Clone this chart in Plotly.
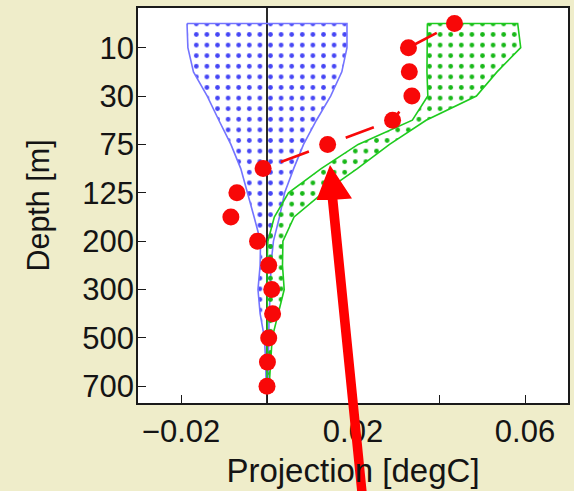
import plotly.graph_objects as go

# ---- data ----
depth_labels = ["5", "10", "20", "30", "50", "75", "100", "125", "150",
                "200", "250", "300", "400", "500", "600", "700"]
tick_depths = ["10", "30", "75", "125", "200", "300", "500", "700"]

obs = [0.0436, 0.0329, 0.0331, 0.0337, 0.0292, 0.0141, -0.0009, -0.0070,
       -0.0084, -0.0022, 0.0004, 0.0011, 0.0013, 0.0004, 0.0001, 0.0000]

blue_lo = [-0.0186, -0.0184, -0.0171, -0.0139, -0.0112, -0.0084, -0.0061, -0.0045,
           -0.0030, -0.0015, -0.0016, -0.0021, -0.0016, -0.0006, -0.0003, -0.0002]
blue_hi = [0.0186, 0.0186, 0.0174, 0.0148, 0.0115, 0.0085, 0.0062, 0.0041,
           0.0029, 0.0015, 0.0009, 0.0008, 0.0005, 0.0004, 0.0003, 0.0002]

green_lo = [0.0373, 0.0372, 0.0372, 0.0374, 0.0338, 0.0212, 0.0126, 0.0050,
            0.0017, 0.0002, 0.0000, 0.0000, 0.0001, 0.0000, 0.0000, 0.0000]
green_hi = [0.0583, 0.0590, 0.0535, 0.0487, 0.0370, 0.0285, 0.0210, 0.0130,
            0.0063, 0.0037, 0.0036, 0.0040, 0.0026, 0.0012, 0.0008, 0.0005]

dashed_levels = 7  # top levels joined by the dashed red line

x_tickvals = [-0.02, 0.0, 0.02, 0.04, 0.06]
x_ticktext = ["\u22120.02", "", "0.02", "", "0.06"]

# ---- style ----
W, H = 574, 491
ML, MR, MT, MB = 138, 6, 8, 88
BG = "#efedca"
RED = "#f80808"
BLUE_LINE = "#7474ff"
BLUE_DOT = "#4646f5"
GREEN_LINE = "#1ecb1e"
GREEN_DOT = "#18b818"
FONT = "Liberation Sans, Arial, sans-serif"

fig = go.Figure()


def band(lo, hi, line_color, dot_color):
    xs = list(lo) + list(hi[::-1]) + [lo[0]]
    ys = list(depth_labels) + list(depth_labels[::-1]) + [depth_labels[0]]
    return go.Scatter(
        x=xs, y=ys, mode="lines", fill="toself",
        fillcolor="rgba(0,0,0,0)",
        line=dict(color=line_color, width=1.6),
        fillpattern=dict(shape=".", fgcolor=dot_color, bgcolor="rgba(0,0,0,0)",
                         size=10.6, solidity=0.16, fillmode="replace"),
        hoverinfo="skip", showlegend=False)


fig.add_trace(band(blue_lo, blue_hi, BLUE_LINE, BLUE_DOT))
fig.add_trace(band(green_lo, green_hi, GREEN_LINE, GREEN_DOT))

for k in range(dashed_levels - 1):
    fig.add_trace(go.Scatter(
        x=obs[k:k + 2], y=depth_labels[k:k + 2], mode="lines",
        line=dict(color=RED, width=2.6, dash="0px,20px,30px,1000px"),
        hoverinfo="skip", showlegend=False))

fig.add_trace(go.Scatter(
    x=obs, y=depth_labels, mode="markers",
    marker=dict(size=17, color=RED, line=dict(width=0)),
    hoverinfo="skip", showlegend=False))

# ---- big red arrow annotation (overlay; pixel -> paper coords) ----
pw, ph = W - ML - MR, H - MT - MB


def P(px, py):
    return (px - ML) / pw, (H - MB - py) / ph


arrow_px = [(330, 165), (352, 198.5), (337.5, 199.5), (368, 505),
            (358.5, 505), (327.8, 200), (316.5, 200)]
pts = [P(a, b) for a, b in arrow_px]
path = "M " + " L ".join(f"{x:.5f},{y:.5f}" for x, y in pts) + " Z"
fig.add_shape(type="path", path=path, xref="paper", yref="paper",
              fillcolor="#ff0000", line=dict(width=0), layer="above")

axis_common = dict(
    showline=True, linecolor="#1a1a1a", linewidth=1.5, mirror=True,
    ticks="inside", ticklen=8, tickwidth=1.3, tickcolor="#1a1a1a",
    showgrid=False,
    tickfont=dict(family=FONT, size=31, color="#141414"),
)

fig.update_xaxes(
    range=[-0.03, 0.07], tickmode="array", tickvals=x_tickvals, ticktext=x_ticktext,
    zeroline=True, zerolinecolor="#2a2a2a", zerolinewidth=1.6,
    title=dict(text="Projection [degC]", font=dict(family=FONT, size=33, color="#141414"),
               standoff=11),
    **axis_common)

fig.update_yaxes(
    type="category", categoryorder="array", categoryarray=depth_labels,
    range=[15.69, -0.64], tickmode="array", tickvals=tick_depths, ticktext=tick_depths,
    zeroline=False, ticklabelstandoff=-4,
    title=dict(text="Depth [m]", font=dict(family=FONT, size=30.5, color="#141414"),
               standoff=24),
    **axis_common)

fig.update_layout(
    width=W, height=H,
    paper_bgcolor=BG, plot_bgcolor="white",
    margin=dict(l=ML, r=MR, t=MT, b=MB, autoexpand=False),
    showlegend=False,
    hovermode=False,
    modebar=dict(bgcolor="rgba(0,0,0,0)", color="rgba(0,0,0,0)",
                 activecolor="rgba(0,0,0,0)"),
)

# remove the default page margin so the figure sits at the window origin
page_js = ("document.body.style.margin='0';"
           "document.body.style.background='" + BG + "';")
fig.write_html("out.html", post_script=page_js,
               config={"displayModeBar": False})
